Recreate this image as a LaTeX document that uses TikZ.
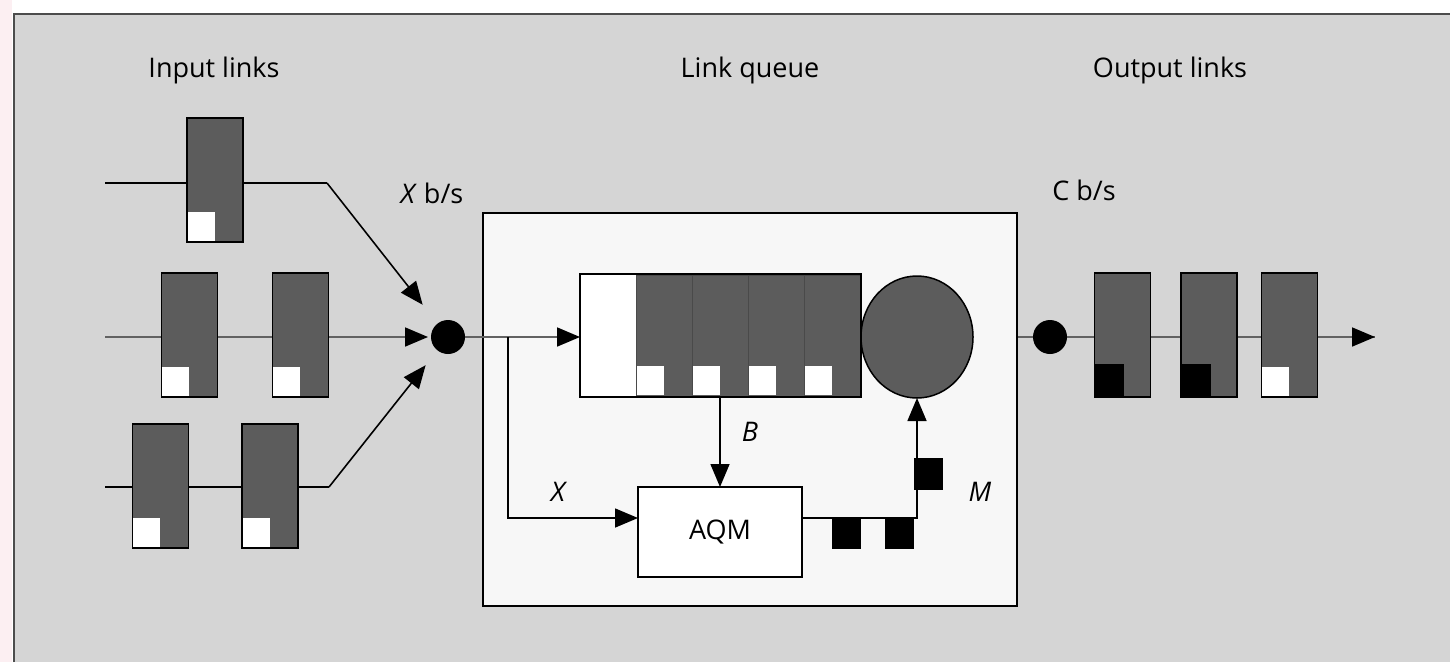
\documentclass[tikz,border=0pt]{standalone}
\usepackage{fontspec}
\setmainfont{Open Sans}
\usetikzlibrary{arrows.meta,shapes.geometric}
\definecolor{bgray}{HTML}{D5D5D5}
\definecolor{pk}{HTML}{5C5C5C}
\definecolor{qbg}{HTML}{F7F7F7}
\definecolor{pinkish}{HTML}{FCEFF2}
\definecolor{mline}{HTML}{626262}
\pgfdeclarelayer{back}
\pgfsetlayers{back,main}
\begin{document}
\begin{tikzpicture}[x=1pt,y=-1pt,
  every node/.style={inner sep=0pt,outer sep=0pt},
  lbl/.style={font=\fontsize{27}{30}\selectfont},
  ilbl/.style={font=\fontsize{27}{30}\selectfont\itshape},
  pkt/.style={draw=black,line width=1.2pt,fill=pk,minimum width=56pt,minimum height=124pt},
  wsq/.style={fill=white,minimum width=27pt,minimum height=29pt},
  bsq/.style={fill=black,minimum width=29pt,minimum height=32pt},
  cell/.style={draw=pk!80!black,line width=0.8pt,fill=pk,minimum width=56pt,minimum height=121pt},
  dotn/.style={circle,fill=black,minimum size=34pt},
  conn/.style={draw=black,line width=1.6pt},
  mconn/.style={draw=mline,line width=1.8pt},
  arr/.style={-{Triangle[length=23pt,width=19pt,color=black]}}
]
\useasboundingbox (0,0) rectangle (1450,662);
\begin{pgfonlayer}{back}
\fill[white] (0,0) rectangle (1450,662);
\fill[pinkish] (0,0) rectangle (12,662);
\fill[bgray] (14,14) rectangle (1450,662);
\draw[gray!60!black,line width=1.5pt] (14,662) -- (14,14) -- (1450,14);
\end{pgfonlayer}

% titles
\node[lbl] (tin) at (214,70) {Input links};
\node[lbl] (tq) at (750,70) {Link queue};
\node[lbl] (tout) at (1170,70) {Output links};
\node[lbl] (xbs) at (432,193) {\textit{X} b/s};
\node[lbl] (cbs) at (1084,190) {C b/s};

% link queue box
\node[draw=black,line width=1.5pt,fill=qbg,minimum width=534pt,minimum height=393pt] (lq) at (750,409.5) {};

% input packets
\node[pkt] (i1) at (215,180) {};
\node[pkt] (i2a) at (189.5,335) {};
\node[pkt] (i2b) at (300.5,335) {};
\node[pkt] (i3a) at (160.5,486) {};
\node[pkt] (i3b) at (270,486) {};
\foreach \n in {i1,i2a,i2b,i3a,i3b}{
  \node[wsq,anchor=south west] (w\n) at ([shift={(0.6pt,0.6pt)}]\n.south west) {};
}

% junction dots
\node[dotn] (din) at (448,337) {};
\node[dotn] (dout) at (1050,337) {};

% queue
\node[draw=black,line width=1.5pt,fill=white,minimum width=281pt,minimum height=123pt] (q) at (720.5,335.5) {};
\node[cell] (qc1) at (664,335.5) {};
\node[cell] (qc2) at (720,335.5) {};
\node[cell] (qc3) at (776,335.5) {};
\node[cell] (qc4) at (832.5,335.5) {};
\foreach \n in {qc1,qc2,qc3,qc4}{
  \node[wsq,anchor=south west] (w\n) at ([shift={(0.5pt,0.8pt)}]\n.south west) {};
}
\draw[black,line width=1.5pt] (q.north west) rectangle (q.south east);
\node[ellipse,draw=black,line width=1.5pt,fill=pk,minimum width=112pt,minimum height=122pt] (srv) at (917,337) {};

% AQM
\node[draw=black,line width=1.5pt,fill=white,minimum width=164pt,minimum height=90pt,lbl] (aqm) at (720,532) {AQM};

% output packets
\node[pkt] (o1) at (1122.5,335) {};
\node[pkt] (o2) at (1209,335) {};
\node[pkt] (o3) at (1289.5,335) {};
\node[bsq,anchor=south west] (bo1) at ([shift={(0.6pt,0.6pt)}]o1.south west) {};
\node[bsq,anchor=south west] (bo2) at ([shift={(0.6pt,0.6pt)}]o2.south west) {};
\node[wsq,anchor=south west] (wo3) at ([shift={(0.6pt,0.6pt)}]o3.south west) {};

% marks
\node[bsq] (m1) at (846,533) {};
\node[bsq] (m2) at (899,533) {};
\node[bsq] (m3) at (928,473.5) {};

% labels
\node[ilbl] (lx) at (558,492) {X};
\node[ilbl] (lb) at (750,432) {B};
\node[ilbl] (lm) at (980,492) {M};

% coordinates
\coordinate (a1) at (105,183);
\coordinate (k1) at (327,183);
\coordinate (a2) at (105,337);
\coordinate (a3) at (105,487);
\coordinate (k3) at (329,487);
\coordinate (br) at (508,337);
\coordinate (oend) at (1375,337);

\begin{pgfonlayer}{back}
\draw[conn] (a1) -- (k1);
\draw[mconn,arr,shorten >=3pt] (a2) -- (din.west);
\draw[conn] (a3) -- (k3);
\draw[mconn] (srv.east) -- (oend);
\end{pgfonlayer}

% connectors
\draw[conn,arr,shorten >=24pt] (k1) -- (din);
\draw[conn,arr,shorten >=19pt] (k3) -- (din);
\draw[mconn,arr] (din.east) -- (din -| q.west);
\draw[conn,arr] (br) |- ([yshift=14pt]aqm.west);
\draw[conn,arr] (qc2.south) -- (aqm.north);
\draw[conn,arr] ([yshift=14pt]aqm.east) -| (srv.south);
\draw[mconn,arr] (o3.east |- dout) -- (oend);
\end{tikzpicture}
\end{document}
